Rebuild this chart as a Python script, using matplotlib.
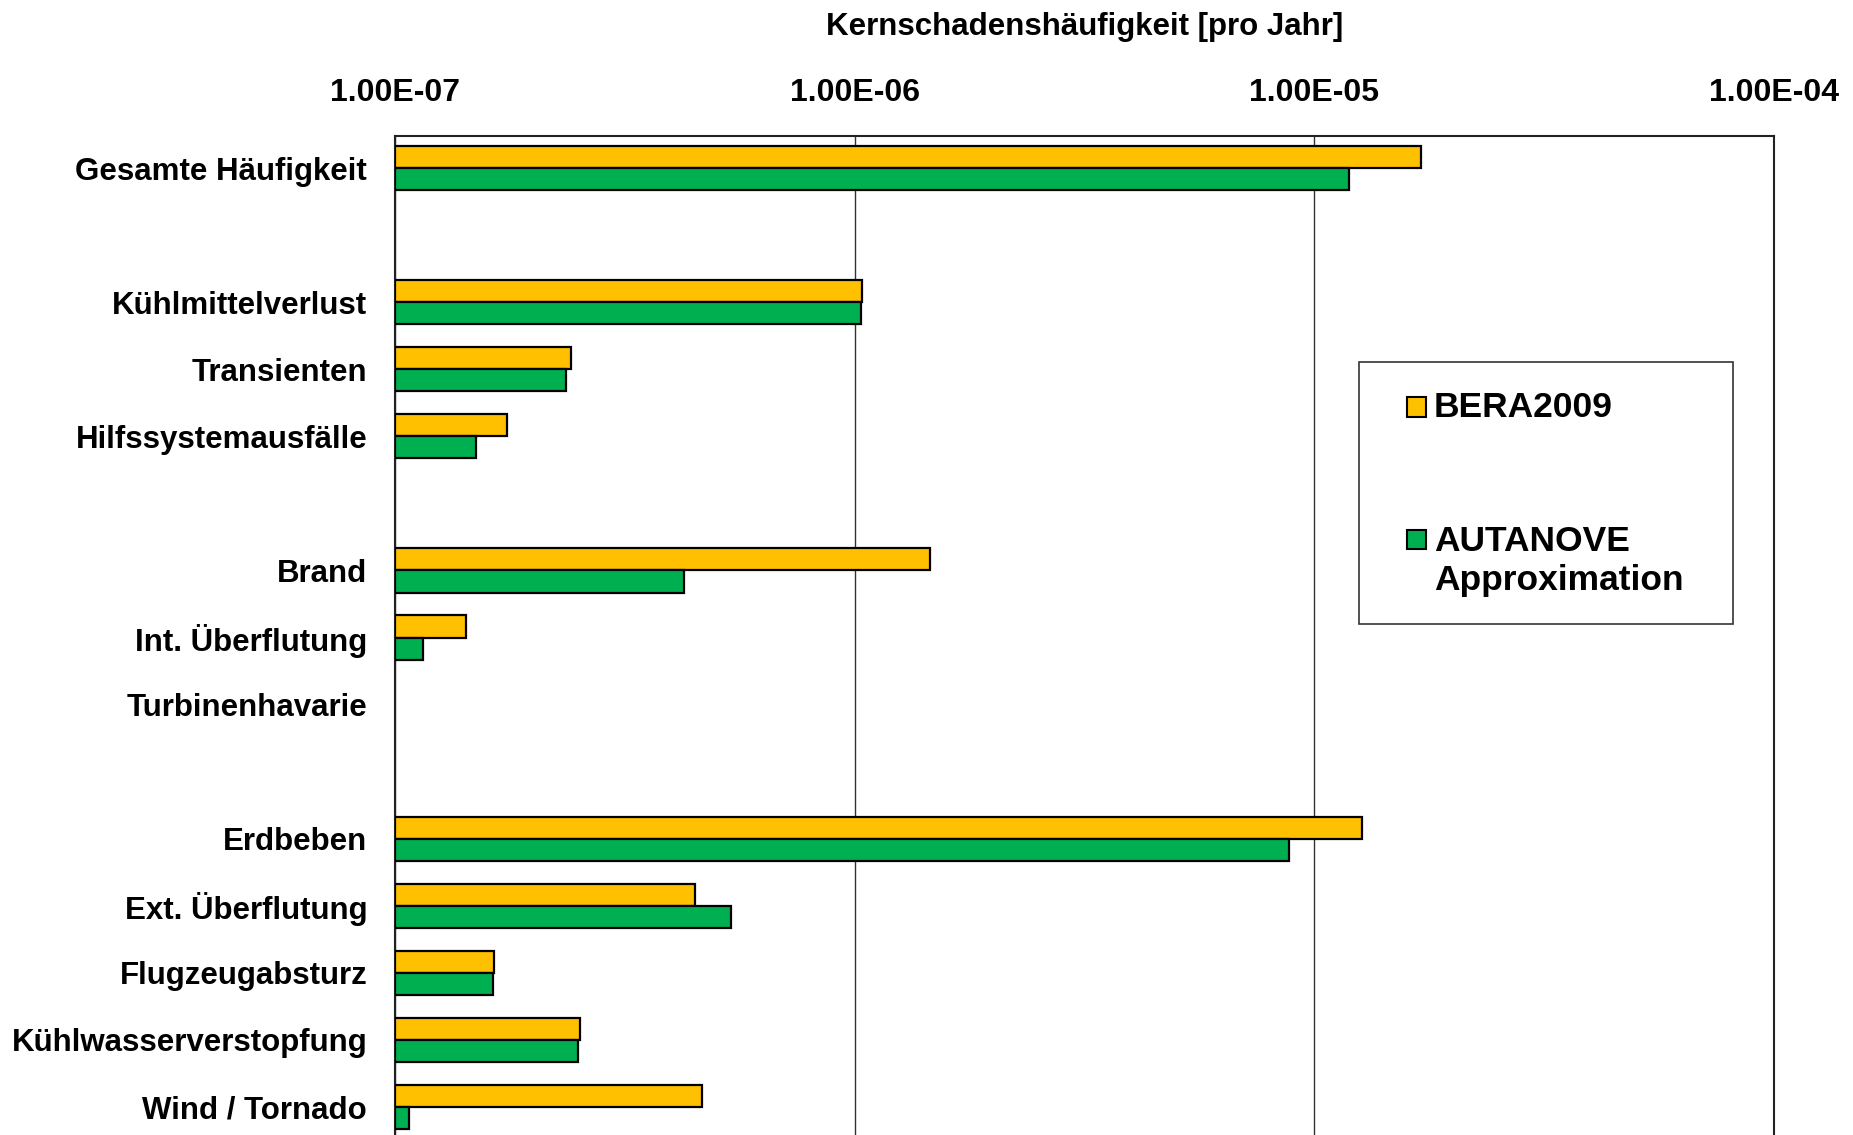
import numpy as np
import matplotlib
matplotlib.use("Agg")
import matplotlib.pyplot as plt
from matplotlib.patches import Rectangle

plt.rcParams['font.family'] = ['Liberation Sans', 'DejaVu Sans']
plt.rcParams['font.weight'] = 'bold'
plt.rcParams['axes.labelweight'] = 'bold'

# Initiating event groups (a blank row separates each group)
groups = [
    ["Gesamte Häufigkeit"],
    ["Kühlmittelverlust", "Transienten", "Hilfssystemausfälle"],
    ["Brand", "Int. Überflutung", "Turbinenhavarie"],
    ["Erdbeben", "Ext. Überflutung", "Flugzeugabsturz",
     "Kühlwasserverstopfung", "Wind / Tornado"],
]

# Core damage frequency per year (nan = no contribution shown)
bera2009 = [1.71e-5,
            1.04e-6, 2.42e-7, 1.75e-7,
            1.46e-6, 1.43e-7, np.nan,
            1.27e-5, 4.50e-7, 1.64e-7, 2.52e-7, 4.66e-7]
autanove = [1.19e-5,
            1.03e-6, 2.36e-7, 1.50e-7,
            4.26e-7, 1.15e-7, np.nan,
            8.83e-6, 5.37e-7, 1.63e-7, 2.50e-7, 1.07e-7]

series_names = ["BERA2009", "AUTANOVE\nApproximation"]
colors = ["#FFC000", "#00B050"]

# row positions with a gap between groups
labels = []
ypos = []
row = 0
for g in groups:
    for name in g:
        labels.append(name)
        ypos.append(row)
        row += 1
    row += 1
ypos = np.array(ypos, dtype=float)

xmin, xmax = 1e-7, 1e-4
bar_h = 0.33

fig = plt.figure(figsize=(18.53, 11.35), dpi=100)
ax = fig.add_axes([395 / 1853, 0.0, (1774 - 395) / 1853, 1 - 136 / 1135])

for vals, off, c in [(bera2009, -bar_h / 2, colors[0]), (autanove, bar_h / 2, colors[1])]:
    v = np.array(vals)
    ok = ~np.isnan(v)
    ax.barh(ypos[ok] + off, v[ok] - xmin, left=xmin, height=bar_h,
            color=c, edgecolor='black', linewidth=1.6, zorder=3)

ax.set_xscale('log')
ax.set_xlim(xmin, xmax)
ax.set_ylim(14.42, -0.48)

ax.xaxis.tick_top()
ax.xaxis.set_label_position('top')
ax.set_xticks([1e-7, 1e-6, 1e-5, 1e-4])
ax.set_xticklabels(["1.00E-07", "1.00E-06", "1.00E-05", "1.00E-04"])
ax.xaxis.set_minor_locator(matplotlib.ticker.NullLocator())
ax.tick_params(axis='x', length=0, pad=20, labelsize=23)
ax.set_xlabel("Kernschadenshäufigkeit [pro Jahr]", fontsize=22.5, labelpad=31)

ax.set_yticks(ypos)
ax.set_yticklabels(labels)
ax.tick_params(axis='y', length=0, pad=20, labelsize=22.5)

ax.grid(axis='x', which='major', color='#333333', linewidth=1.0, zorder=0)
ax.spines['bottom'].set_visible(False)
for s in ['top', 'left', 'right']:
    ax.spines[s].set_linewidth(1.5)
    ax.spines[s].set_color('#222222')

# legend box
W, H = 1853, 1135
fig.add_artist(Rectangle((1359 / W, 1 - 624 / H), (1733 - 1359) / W, (624 - 362) / H,
                         transform=fig.transFigure, facecolor='white',
                         edgecolor='#333333', linewidth=1.2, zorder=5))
sq = 19
for (cy, c) in [(407, colors[0]), (539, colors[1])]:
    fig.add_artist(Rectangle(((1416 - sq / 2) / W, 1 - (cy + sq / 2) / H), sq / W, sq / H,
                             transform=fig.transFigure, facecolor=c,
                             edgecolor='black', linewidth=1.5, zorder=6))
fig.text(1434 / W, 1 - 407 / H, series_names[0], fontsize=25.5, fontweight='bold',
         va='center', ha='left', zorder=7)
fig.text(1434 / W, 1 - 561 / H, series_names[1], fontsize=25.5, fontweight='bold',
         va='center', ha='left', linespacing=1.25, zorder=7)

fig.savefig("out.png", dpi=100)
